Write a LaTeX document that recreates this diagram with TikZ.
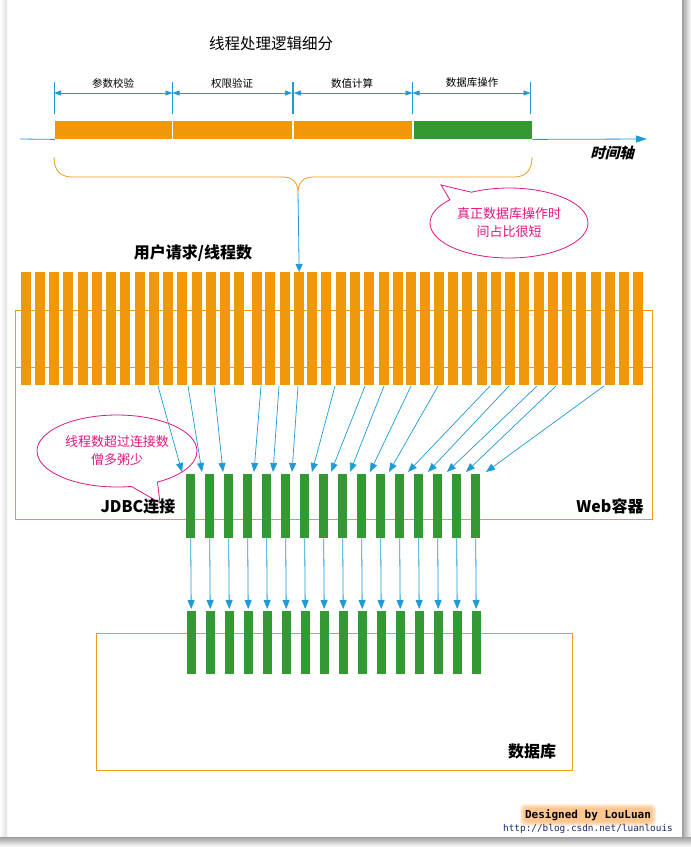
\documentclass[tikz,border=0pt]{standalone}
\usepackage{fontspec}
\setmainfont{Noto Sans CJK SC}
\newfontfamily\axisfont{Noto Sans CJK SC}[FakeSlant=0.25]
\newfontfamily\credmono{DejaVu Sans Mono}
\usetikzlibrary{arrows.meta,shapes.callouts,shapes.geometric,calc}
\definecolor{barorange}{HTML}{F0980C}
\definecolor{bargreen}{HTML}{339A33}
\definecolor{lineblue}{HTML}{1E9AD7}
\definecolor{boxorange}{HTML}{EE9A1E}
\definecolor{callmag}{HTML}{E0187F}
\definecolor{urlblue}{HTML}{1B2A6B}
\begin{document}
\begin{tikzpicture}[x=1pt,y=-1pt,
  obar/.style={anchor=north west, inner sep=0pt, minimum width=10pt, minimum height=113pt, fill=barorange},
  gbar/.style={anchor=north west, inner sep=0pt, minimum width=9pt, fill=bargreen},
  seg/.style={anchor=north west, inner sep=0pt, minimum height=18pt, fill=barorange},
  blarrow/.style={draw=lineblue, line width=0.8pt, -{Triangle[length=9pt,width=7pt]}},
  dimarrow/.style={draw=lineblue, line width=0.8pt, {Triangle[length=7pt,width=5pt]}-{Triangle[length=7pt,width=5pt]}},
  tick/.style={draw=lineblue, line width=0.9pt},
  boxline/.style={draw=boxorange, line width=0.9pt},
  dimlabel/.style={font=\fontsize{10.5}{12}\selectfont, inner sep=0pt},
  bigbold/.style={font=\fontsize{16}{18}\selectfont\bfseries, inner sep=0pt},
  note/.style={ellipse callout, draw=callmag, line width=0.8pt, text=callmag, align=center,
     font=\fontsize{13}{18}\selectfont, inner sep=0pt, callout pointer arc=20}
]
\useasboundingbox (0,0) rectangle (691,847);
\fill[white] (0,0) rectangle (691,847);
% page shadow
\shade[left color=white, right color=gray!25] (0,0) rectangle (7,837);
\shade[left color=gray!75, right color=white] (682,0) rectangle (691,847);
\shade[top color=gray!75, bottom color=white] (0,837) rectangle (691,847);

% title
\node[font=\fontsize{15.5}{18}\selectfont, inner sep=0pt] (title) at (271,44) {线程处理逻辑细分};

% timeline segments
\node[seg, minimum width=117pt] (s1) at (55,121) {};
\node[seg, minimum width=119pt] (s2) at (173,121) {};
\node[seg, minimum width=118pt] (s3) at (294,121) {};
\node[seg, minimum width=118pt, fill=bargreen] (s4) at (414,121) {};
\coordinate (axl) at (20,139);
\coordinate (axr) at (647,139);
\draw[draw=lineblue, line width=0.8pt] (axl) -- (s1.south west);
\draw[draw=lineblue, line width=0.8pt, -{Triangle[length=11pt,width=7pt]}] (s4.south east) -- (axr);
\node[font=\fontsize{14.5}{16}\selectfont\axisfont\bfseries, inner sep=0pt] (axlabel) at (612,153) {时间轴};

% dimension ticks
\foreach \x [count=\i] in {54,172.5,292,293.8,412.5,530.5}
  \draw[tick] (\x,82) -- (\x,114);
\coordinate (d0) at (54,93);
\coordinate (d1) at (172.5,93);
\coordinate (d2) at (292,93);
\coordinate (d2b) at (293.8,93);
\coordinate (d3) at (412.5,93);
\coordinate (d4) at (530.5,93);
\draw[dimarrow] (d0) -- (d1);
\draw[dimarrow] (d1) -- (d2);
\draw[dimarrow] (d2b) -- (d3);
\draw[dimarrow] (d3) -- (d4);
\node[dimlabel] (l1) at (113,83) {参数校验};
\node[dimlabel] (l2) at (232,83) {权限验证};
\node[dimlabel] (l3) at (352,83) {数值计算};
\node[dimlabel] (l4) at (472,83) {数据库操作};

% brace
\coordinate (bracetip) at (298,193);
\draw[boxline, line width=0.8pt] (54,157) .. controls (54,170) and (60,177) .. (72,177) -- (283,177)
   .. controls (293,177) and (298,183) .. (bracetip)
   .. controls (298,183) and (303,177) .. (313,177) -- (514,177)
   .. controls (526,177) and (532,170) .. (532,157);

% callout top right
\node[note, minimum width=158pt, minimum height=70pt, callout absolute pointer={(441,185)}] (note1) at (509,223) {真正数据库操作时\\间占比很短};

% web container box
\draw[boxline] (15,310) rectangle (652,519);
\draw[boxline] (15,367) -- (652,367);
% database box
\draw[boxline] (96,633) rectangle (572,770);

% orange bars
\foreach \x [count=\i] in {21,35,49,63,78,92,106,120,135,149,163,177,192,206,220,234,252,265,280,294,307,321,336,350,364,379,393,406,420,434,448,462,477,491,505,519,534,548,562,576,591,605,619,633}
  \node[obar] (o\i) at (\x,272) {};

\node[font=\fontsize{16}{18}\selectfont\bfseries, inner sep=0pt] (users) at (193,253) {用户请求/线程数};
\draw[blarrow, -{Triangle[length=8pt,width=7pt]}] (bracetip) -- (o20.north);

% green bars
\foreach \i in {1,...,16} {
  \node[gbar, minimum height=64pt] (g\i) at ({186+19*(\i-1)},474) {};
  \node[gbar, minimum height=63pt] (h\i) at ({186.5+19*(\i-1)},611) {};
  \draw[blarrow] (g\i.south) -- ([yshift=2pt]h\i.north);
}

% diagonal connectors
\foreach \sx/\tx [count=\i] in {158/182,188/202,214/223,261/254,279/273,298/292,335/312,365/331,384/350,411/370,438/389,490/408,509/428,537/447,556/466,604/486} {
  \coordinate (da\i) at (\sx,386);
  \coordinate (db\i) at (\tx,472);
  \draw[blarrow, line width=0.7pt] (da\i) -- (db\i);
}

% left callout
\node[note, minimum width=160pt, minimum height=72pt, callout absolute pointer={(160,503)}] (note2) at (117,451) {线程数超过连接数\\僧多粥少};

% labels
\node[bigbold] (jdbc) at (138,506) {JDBC连接};
\node[bigbold] (web) at (610,506) {Web容器};
\node[bigbold] (db) at (532,751) {数据库};

% credit glow
\foreach \r in {1,2,3,4,5}
  \fill[orange!80, opacity=0.14, rounded corners=4pt] (525-\r,809-\r) rectangle (651+\r,821+\r);
\node[font=\fontsize{11}{12}\selectfont\credmono\bfseries, inner sep=0pt] (credit) at (588,815) {Designed by LouLuan};
\node[font=\fontsize{9.4}{10}\selectfont\credmono, text=urlblue, inner sep=0pt] (url) at (588,829) {http://blog.csdn.net/luanlouis};
\end{tikzpicture}
\end{document}
